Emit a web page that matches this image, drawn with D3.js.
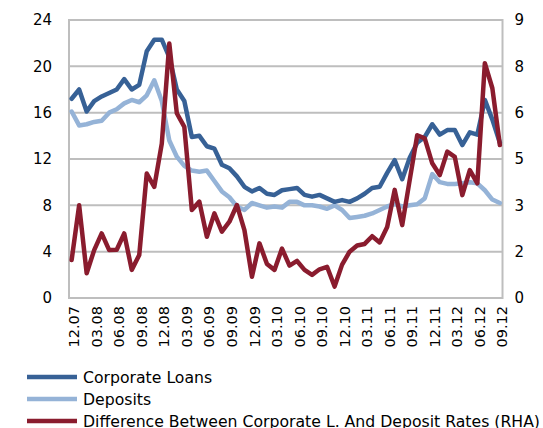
<!DOCTYPE html>
<html>
<head>
<meta charset="utf-8">
<script src="https://cdn.jsdelivr.net/npm/d3@7"></script>
<style>
  html, body { margin: 0; padding: 0; background: #fff; }
  svg { display: block; }
  text { font-family: "DejaVu Sans", Verdana, sans-serif; fill: #000; }
</style>
</head>
<body>
<svg id="chart" width="543" height="428"></svg>
<script>
// Monthly periods, Dec 2007 .. Sep 2012 (MM.YY)
const months = [];
for (let y = 2007; y <= 2012; y++) {
  for (let m = 1; m <= 12; m++) {
    if ((y === 2007 && m < 12) || (y === 2012 && m > 9)) continue;
    months.push(String(m).padStart(2, "0") + "." + String(y % 100).padStart(2, "0"));
  }
}

// Interest rates on corporate loans, % (left axis)
const corporateLoans = [
  17.2, 18.0, 16.1, 17.0, 17.4, 17.7, 18.0, 18.9, 18.0, 18.4,
  21.3, 22.3, 22.3, 20.8, 18.0, 17.0, 13.9, 14.0, 13.1, 12.9,
  11.5, 11.2, 10.5, 9.6, 9.2, 9.5, 9.0, 8.9, 9.3, 9.4,
  9.5, 8.9, 8.75, 8.9, 8.6, 8.3, 8.45, 8.3, 8.6, 9.0,
  9.5, 9.6, 10.8, 11.9, 10.25, 12.1, 13.4, 13.9, 15.0, 14.1,
  14.5, 14.5, 13.2, 14.3, 14.1, 17.1, 15.4, 13.4
];

// Interest rates on deposits, % (left axis)
const deposits = [
  16.1, 14.9, 15.0, 15.2, 15.3, 16.0, 16.3, 16.8, 17.1, 16.9,
  17.5, 18.8, 17.0, 13.6, 12.2, 11.4, 11.0, 10.9, 11.0, 10.1,
  9.2, 8.7, 7.9, 7.6, 8.2, 8.0, 7.8, 7.9, 7.8, 8.3,
  8.3, 8.0, 8.0, 7.9, 7.7, 8.0, 7.6, 6.9, 7.0, 7.1,
  7.3, 7.6, 7.9, 8.1, 7.9, 8.0, 8.1, 8.6, 10.7, 10.0,
  9.85, 9.85, 9.9, 10.0, 9.9, 9.3, 8.5, 8.2
];

// Spread between the two rates, pp (right axis)
const rateDifference = [
  1.23, 3.0, 0.8, 1.55, 2.09, 1.55, 1.56, 2.09, 0.91, 1.39,
  4.03, 3.6, 5.0, 8.24, 5.98, 5.54, 2.85, 3.12, 1.98, 2.74,
  2.15, 2.47, 3.01, 2.2, 0.69, 1.77, 1.1, 0.91, 1.6, 1.05,
  1.2, 0.91, 0.75, 0.93, 1.01, 0.37, 1.08, 1.5, 1.7, 1.75,
  2.0, 1.8, 2.3, 3.5, 2.36, 3.82, 5.27, 5.17, 4.36, 3.98,
  4.74, 4.57, 3.33, 4.14, 3.71, 7.6, 6.79, 4.95
];

const leftTicks = [0, 4, 8, 12, 16, 20, 24];
const rightTicks = [0, 1.5, 3, 4.5, 6, 7.5, 9];
const xTickLabels = months.filter((d, i) => i % 3 === 0);

const seriesNames = [
  "Corporate Loans",
  "Deposits",
  "Difference Between Corporate L. And Deposit Rates (RHA)"
];
const colors = { loans: "#376196", deposits: "#95B3D7", diff: "#8A1C2E" };

const svg = d3.select("#chart");
const plot = { left: 69, right: 502.5, top: 20, bottom: 298 };

const x = d3.scalePoint()
  .domain(months)
  .range([plot.left, plot.right])
  .padding(0.35);

const yLeft = d3.scaleLinear().domain([0, 24]).range([plot.bottom, plot.top]);
const yRight = d3.scaleLinear().domain([0, 9]).range([plot.bottom, plot.top]);

// Horizontal gridlines
svg.append("g")
  .selectAll("line")
  .data(leftTicks.filter(d => d > 0 && d < 24))
  .join("line")
  .attr("x1", plot.left).attr("x2", plot.right)
  .attr("y1", d => yLeft(d)).attr("y2", d => yLeft(d))
  .attr("stroke", "#BEBEBE").attr("stroke-width", 2);

// Plot area frame
svg.append("rect")
  .attr("x", plot.left).attr("y", plot.top)
  .attr("width", plot.right - plot.left)
  .attr("height", plot.bottom - plot.top)
  .attr("fill", "none")
  .attr("stroke", "#BEBEBE").attr("stroke-width", 2);

// Left axis
const gl = svg.append("g")
  .attr("transform", `translate(${plot.left},0)`)
  .call(d3.axisLeft(yLeft).tickValues(leftTicks).tickSize(0).tickPadding(17));
gl.select(".domain").remove();
gl.selectAll("text").attr("font-size", 15).attr("font-family", "DejaVu Sans");

// Right axis
const fmt = d3.format(".0f");
const gr = svg.append("g")
  .attr("transform", `translate(${plot.right},0)`)
  .call(d3.axisRight(yRight).tickValues(rightTicks).tickFormat(fmt).tickSize(0).tickPadding(12));
gr.select(".domain").remove();
gr.selectAll("text").attr("font-size", 15).attr("font-family", "DejaVu Sans");

// Bottom axis with rotated period labels
const gb = svg.append("g")
  .attr("transform", `translate(0,${plot.bottom})`)
  .call(d3.axisBottom(x).tickValues(xTickLabels).tickSize(0).tickPadding(0));
gb.select(".domain").remove();
gb.selectAll("text")
  .attr("font-size", 14.5)
  .attr("font-family", "DejaVu Sans")
  .attr("text-anchor", "end")
  .attr("dy", "0.35em")
  .attr("transform", "translate(2,8) rotate(-90)")
  .attr("x", 0).attr("y", 0);

// Series lines
const lineLeft = d3.line().x((d, i) => x(months[i])).y(d => yLeft(d));
const lineRight = d3.line().x((d, i) => x(months[i])).y(d => yRight(d));

svg.append("path").datum(deposits)
  .attr("d", lineLeft).attr("fill", "none")
  .attr("stroke", colors.deposits).attr("stroke-width", 4.5)
  .attr("stroke-linejoin", "round").attr("stroke-linecap", "round");

svg.append("path").datum(corporateLoans)
  .attr("d", lineLeft).attr("fill", "none")
  .attr("stroke", colors.loans).attr("stroke-width", 4.5)
  .attr("stroke-linejoin", "round").attr("stroke-linecap", "round");

svg.append("path").datum(rateDifference)
  .attr("d", lineRight).attr("fill", "none")
  .attr("stroke", colors.diff).attr("stroke-width", 4.5)
  .attr("stroke-linejoin", "round").attr("stroke-linecap", "round");

// Legend
const legendColors = [colors.loans, colors.deposits, colors.diff];
const legend = svg.append("g");
const rows = legend.selectAll("g")
  .data(seriesNames)
  .join("g")
  .attr("transform", (d, i) => `translate(0,${377 + i * 22})`);
rows.append("line")
  .attr("x1", 27).attr("x2", 77)
  .attr("stroke", (d, i) => legendColors[i])
  .attr("stroke-width", 4.5);
rows.append("text")
  .attr("x", 83).attr("dy", "0.35em")
  .attr("font-size", 15.7)
  .text(d => d);
</script>
</body>
</html>
